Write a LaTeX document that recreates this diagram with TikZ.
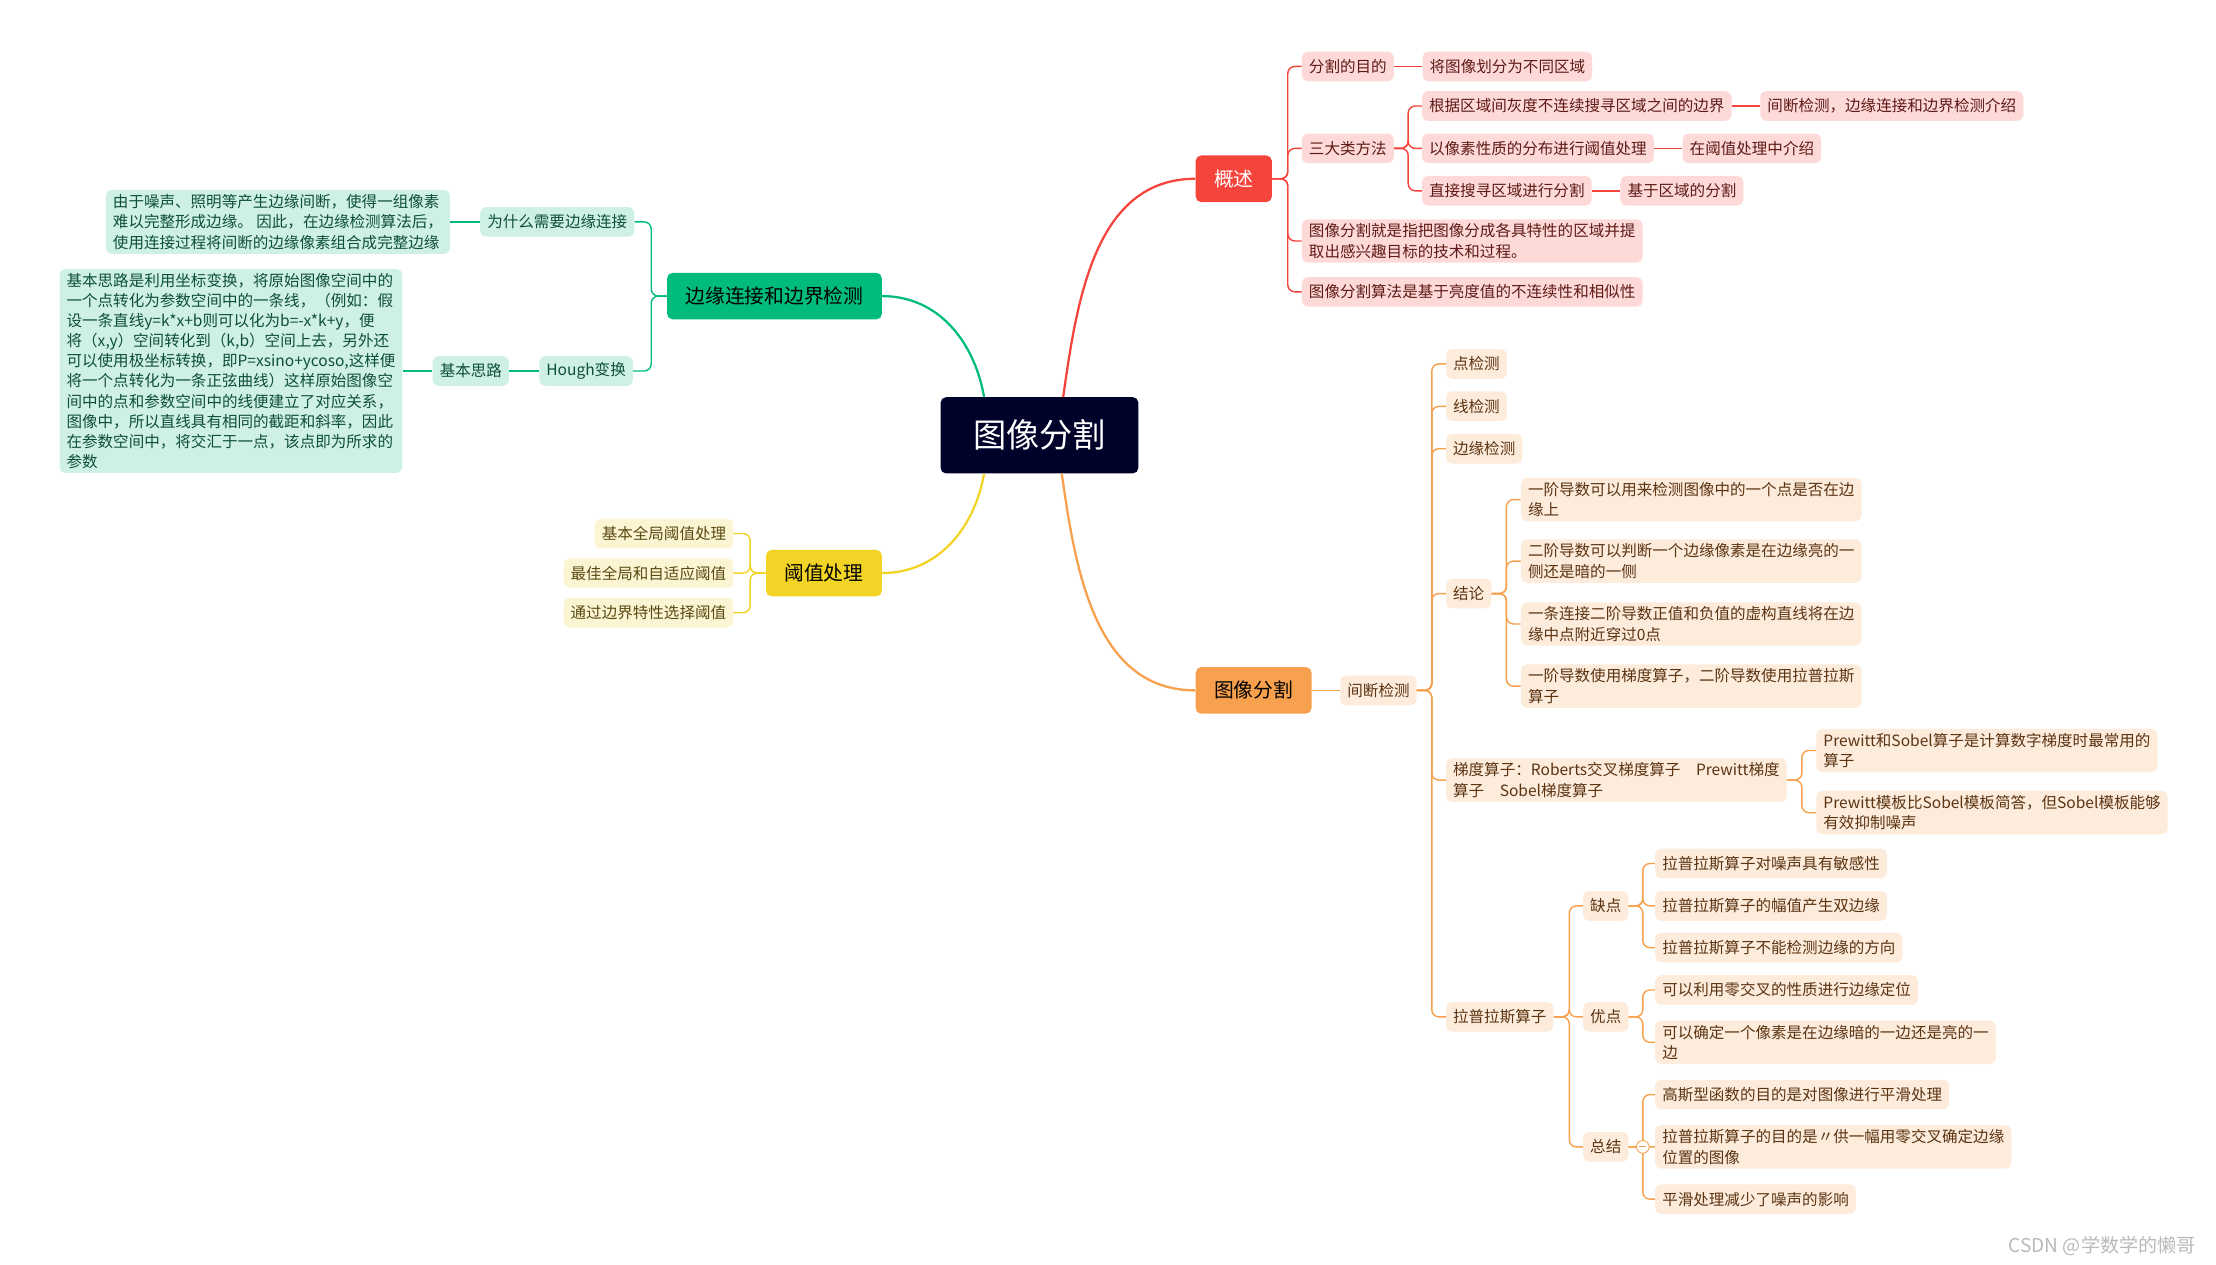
\documentclass[tikz,border=0pt]{standalone}
\usepackage{fontspec}
\setmainfont{Noto Sans CJK SC}
\usetikzlibrary{positioning, calc}
\definecolor{myroot}{HTML}{00022A}
\definecolor{mygreen}{HTML}{00BC7A}
\definecolor{mygreenlt}{HTML}{CEF1E4}
\definecolor{mygreentx}{HTML}{0E4F37}
\definecolor{myred}{HTML}{F5443B}
\definecolor{myredlt}{HTML}{FDDAD8}
\definecolor{myredtx}{HTML}{5E1A16}
\definecolor{myyellow}{HTML}{F2D426}
\definecolor{myyellowlt}{HTML}{FCF5D4}
\definecolor{myyellowtx}{HTML}{5A4A12}
\definecolor{myorange}{HTML}{F7A04D}
\definecolor{myorangelt}{HTML}{FDEBDC}
\definecolor{myorangetx}{HTML}{5B3412}

\begin{document}
\begin{tikzpicture}[
    x=1pt, y=-1pt,
    node distance=20pt and 20pt,
    % node styles
    centerbox/.style={
        rectangle,
        rounded corners=4pt,
        fill=myroot,
        text=white,
        minimum height=54pt,
        inner xsep=23pt,
        font=\fontsize{23.5}{28}\selectfont
    },
    topicbox/.style={
        rectangle,
        rounded corners=4pt,
        minimum height=33pt,
        inner xsep=13pt,
        font=\fontsize{14}{17}\selectfont
    },
    leafbox/.style={
        rectangle,
        rounded corners=4pt,
        minimum height=21pt,
        inner xsep=5pt,
        inner ysep=3pt,
        align=left,
        font=\fontsize{11}{14.5}\selectfont
    },
    gleaf/.style={leafbox, fill=mygreenlt, text=mygreentx},
    rleaf/.style={leafbox, fill=myredlt, text=myredtx},
    yleaf/.style={leafbox, fill=myyellowlt, text=myyellowtx},
    oleaf/.style={leafbox, fill=myorangelt, text=myorangetx},
    % connector styles
    curve/.style={line width=1.6pt},
    elbow/.style={line width=1pt, rounded corners=5pt}
]
\useasboundingbox (0,0) rectangle (1568,895);

% -- Center and main topics --
\node[centerbox] (seg) at (735.5,308) {图像分割};
\node[topicbox, fill=mygreen, text=black] (link) at (548,209.5) {边缘连接和边界检测};
\node[topicbox, fill=myred, text=white] (over) at (873,126.5) {概述};
\node[topicbox, fill=myyellow, text=black] (thr) at (583,405.5) {阈值处理};
\node[topicbox, fill=myorange, text=black] (part) at (887,488.5) {图像分割};

% -- Overview (red) --
\node[rleaf, anchor=west] (goal) at (921,47) {分割的目的};
\node[rleaf, right=20pt of goal] (goalA) {将图像划分为不同区域};
\node[rleaf, anchor=west] (three) at (921,105) {三大类方法};
\node[rleaf, anchor=west] (mA) at (1006,75) {根据区域间灰度不连续搜寻区域之间的边界};
\node[rleaf, right=20pt of mA] (mAx) {间断检测，边缘连接和边界检测介绍};
\node[rleaf, anchor=west] (mB) at (1006,105) {以像素性质的分布进行阈值处理};
\node[rleaf, right=20pt of mB] (mBx) {在阈值处理中介绍};
\node[rleaf, anchor=west] (mC) at (1006,135) {直接搜寻区域进行分割};
\node[rleaf, right=20pt of mC] (mCx) {基于区域的分割};
\node[rleaf, anchor=west] (defn) at (921,170.5) {图像分割就是指把图像分成各具特性的区域并提\\取出感兴趣目标的技术和过程。};
\node[rleaf, anchor=west] (algo) at (921,206.5) {图像分割算法是基于亮度值的不连续性和相似性};

% -- Edge linking (green) --
\node[gleaf, anchor=east] (why) at (449,157) {为什么需要边缘连接};
\node[gleaf, left=21pt of why] (whyA) {由于噪声、照明等产生边缘间断，使得一组像素\\难以完整形成边缘。 因此，在边缘检测算法后，\\使用连接过程将间断的边缘像素组合成完整边缘};
\node[gleaf, anchor=east] (hough) at (448,262.5) {Hough变换};
\node[gleaf, left=21pt of hough] (idea) {基本思路};
\node[gleaf, left=21pt of idea, font=\fontsize{11}{14.2}\selectfont] (ideaA) {基本思路是利用坐标变换，将原始图像空间中的\\一个点转化为参数空间中的一条线，（例如：假\\设一条直线y=k*x+b则可以化为b=-x*k+y，便\\将（x,y）空间转化到（k,b）空间上去，另外还\\可以使用极坐标转换，即P=xsino+ycoso,这样便\\将一个点转化为一条正弦曲线）这样原始图像空\\间中的点和参数空间中的线便建立了对应关系，\\图像中，所以直线具有相同的截距和斜率，因此\\在参数空间中，将交汇于一点，该点即为所求的\\参数};

% -- Thresholding (yellow) --
\node[yleaf, anchor=east] (thA) at (519,377.5) {基本全局阈值处理};
\node[yleaf, anchor=east] (thB) at (519,405.5) {最佳全局和自适应阈值};
\node[yleaf, anchor=east] (thC) at (519,433.5) {通过边界特性选择阈值};

% -- Segmentation (orange) --
\node[oleaf, right=20pt of part] (gap) {间断检测};
\node[oleaf, anchor=west] (dot) at (1023,257.5) {点检测};
\node[oleaf, anchor=west] (line) at (1023,287.5) {线检测};
\node[oleaf, anchor=west] (edge) at (1023,317.5) {边缘检测};
\node[oleaf, anchor=west] (concl) at (1023,420) {结论};
\node[oleaf, anchor=west] (cA) at (1076,353.5) {一阶导数可以用来检测图像中的一个点是否在边\\缘上};
\node[oleaf, anchor=west] (cB) at (1076,397) {二阶导数可以判断一个边缘像素是在边缘亮的一\\侧还是暗的一侧};
\node[oleaf, anchor=west] (cC) at (1076,441.5) {一条连接二阶导数正值和负值的虚构直线将在边\\缘中点附近穿过0点};
\node[oleaf, anchor=west] (cD) at (1076,485.5) {一阶导数使用梯度算子，二阶导数使用拉普拉斯\\算子};
\node[oleaf, anchor=west] (grad) at (1023,552) {梯度算子：Roberts交叉梯度算子　Prewitt梯度\\算子　Sobel梯度算子};
\node[oleaf, anchor=west] (gA) at (1285,531) {Prewitt和Sobel算子是计算数字梯度时最常用的\\算子};
\node[oleaf, anchor=west] (gB) at (1285,575) {Prewitt模板比Sobel模板简答，但Sobel模板能够\\有效抑制噪声};
\node[oleaf, anchor=west] (lap) at (1023,719.5) {拉普拉斯算子};
\node[oleaf, anchor=west] (cons) at (1120,641) {缺点};
\node[oleaf, anchor=west] (pros) at (1120,719.5) {优点};
\node[oleaf, anchor=west] (sum) at (1120,811.5) {总结};
\node[oleaf, anchor=west] (kA) at (1171,611) {拉普拉斯算子对噪声具有敏感性};
\node[oleaf, anchor=west] (kB) at (1171,641) {拉普拉斯算子的幅值产生双边缘};
\node[oleaf, anchor=west] (kC) at (1171,670.5) {拉普拉斯算子不能检测边缘的方向};
\node[oleaf, anchor=west] (pA) at (1171,700.5) {可以利用零交叉的性质进行边缘定位};
\node[oleaf, anchor=west] (pB) at (1171,737.5) {可以确定一个像素是在边缘暗的一边还是亮的一\\边};
\node[oleaf, anchor=west] (sA) at (1171,774.5) {高斯型函数的目的是对图像进行平滑处理};
\node[oleaf, anchor=west] (sB) at (1171,811.5) {拉普拉斯算子的目的是〃供一幅用零交叉确定边缘\\位置的图像};
\node[oleaf, anchor=west] (sC) at (1171,848.5) {平滑处理减少了噪声的影响};

% -- Main curves --
\draw[curve, mygreen] ($(seg.north west)+(31,0)$) to[out=100, in=0] (link.east);
\draw[curve, myred] ($(seg.north west)+(87,0)$) to[out=82, in=180] (over.west);
\draw[curve, myyellow] ($(seg.south west)+(31,0)$) to[out=-100, in=0] (thr.east);
\draw[curve, myorange] ($(seg.south west)+(86,0)$) to[out=-82, in=180] (part.west);

% -- Red connectors --
\draw[elbow, myred] (over.east) -- ++(11,0) |- (goal.west);
\draw[elbow, myred] (over.east) -- ++(11,0) |- (three.west);
\draw[elbow, myred] (over.east) -- ++(11,0) |- (defn.west);
\draw[elbow, myred] (over.east) -- ++(11,0) |- (algo.west);
\draw[elbow, myred] (goal) -- (goalA);
\draw[elbow, myred] (three.east) -- ++(10,0) |- (mA.west);
\draw[elbow, myred] (three.east) -- ++(10,0) |- (mB.west);
\draw[elbow, myred] (three.east) -- ++(10,0) |- (mC.west);
\draw[elbow, myred] (mA) -- (mAx);
\draw[elbow, myred] (mB) -- (mBx);
\draw[elbow, myred] (mC) -- (mCx);

% -- Green connectors --
\draw[elbow, mygreen] (link.west) -- ++(-11,0) |- (why.east);
\draw[elbow, mygreen] (link.west) -- ++(-11,0) |- (hough.east);
\draw[elbow, mygreen] (why) -- (whyA);
\draw[elbow, mygreen] (hough) -- (idea);
\draw[elbow, mygreen] (idea) -- (ideaA);

% -- Yellow connectors --
\draw[elbow, myyellow] (thr.west) -- ++(-11,0) |- (thA.east);
\draw[elbow, myyellow] (thr.west) -- ++(-11,0) |- (thB.east);
\draw[elbow, myyellow] (thr.west) -- ++(-11,0) |- (thC.east);

% -- Orange connectors --
\draw[elbow, myorange] (part) -- (gap);
\draw[elbow, myorange] (gap.east) -- ++(10.5,0) |- (dot.west);
\draw[elbow, myorange] (gap.east) -- ++(10.5,0) |- (line.west);
\draw[elbow, myorange] (gap.east) -- ++(10.5,0) |- (edge.west);
\draw[elbow, myorange] (gap.east) -- ++(10.5,0) |- (concl.west);
\draw[elbow, myorange] (gap.east) -- ++(10.5,0) |- (grad.west);
\draw[elbow, myorange] (gap.east) -- ++(10.5,0) |- (lap.west);
\draw[elbow, myorange] (concl.east) -- ++(10.5,0) |- (cA.west);
\draw[elbow, myorange] (concl.east) -- ++(10.5,0) |- (cB.west);
\draw[elbow, myorange] (concl.east) -- ++(10.5,0) |- (cC.west);
\draw[elbow, myorange] (concl.east) -- ++(10.5,0) |- (cD.west);
\draw[elbow, myorange] (grad.east) -- ++(10.5,0) |- (gA.west);
\draw[elbow, myorange] (grad.east) -- ++(10.5,0) |- (gB.west);
\draw[elbow, myorange] (lap.east) -- ++(11,0) |- (cons.west);
\draw[elbow, myorange] (lap.east) -- ++(11,0) |- (pros.west);
\draw[elbow, myorange] (lap.east) -- ++(11,0) |- (sum.west);
\draw[elbow, myorange] (cons.east) -- ++(10,0) |- (kA.west);
\draw[elbow, myorange] (cons.east) -- ++(10,0) |- (kB.west);
\draw[elbow, myorange] (cons.east) -- ++(10,0) |- (kC.west);
\draw[elbow, myorange] (pros.east) -- ++(10,0) |- (pA.west);
\draw[elbow, myorange] (pros.east) -- ++(10,0) |- (pB.west);
\draw[elbow, myorange] (sum.east) -- ++(10,0) |- (sA.west);
\draw[elbow, myorange] (sum.east) -- ++(10,0) |- (sB.west);
\draw[elbow, myorange] (sum.east) -- ++(10,0) |- (sC.west);

% fold marker on the summary branch
\node[circle, draw=myorange, fill=white, line width=0.6pt, inner sep=0pt, minimum size=9pt] (fold) at ($(sum.east)+(10,0)$) {};
\draw[myorange, line width=0.6pt] ($(fold.center)+(-2.5,0)$) -- ($(fold.center)+(2.5,0)$);

% watermark
\node[anchor=east, text=gray!55, font=\fontsize{13.5}{15}\selectfont] (mark) at (1557,882) {CSDN @学数学的懒哥};

\end{tikzpicture}
\end{document}
